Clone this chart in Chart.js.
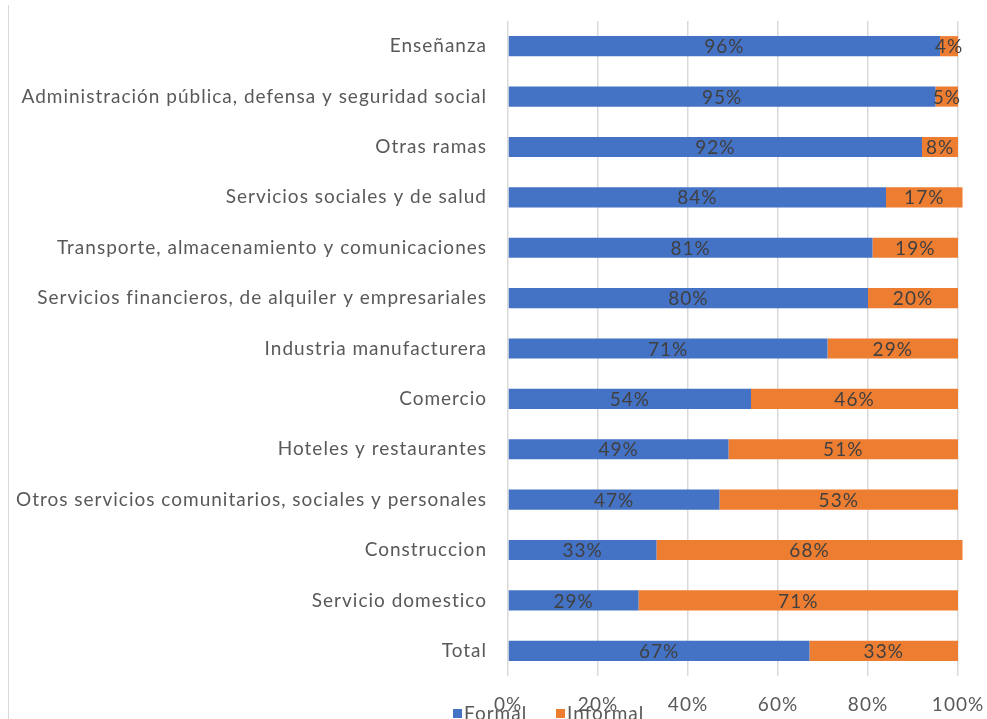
<!DOCTYPE html>
<html>
<head>
<meta charset="utf-8">
<title>Formal / Informal por rama</title>
<script src="https://cdn.jsdelivr.net/npm/chart.js@4/dist/chart.umd.min.js"></script>
<style>
  html, body { margin: 0; padding: 0; background: #fff; }
  #wrap { position: relative; width: 987px; height: 719px; overflow: hidden; }
  #frame { position: absolute; left: 8px; top: 5px; bottom: 0; border-left: 1px solid #d9d9d9; }
  canvas { position: absolute; left: 0; top: 0; }
</style>
</head>
<body>
<div id="wrap">
  <div id="frame"></div>
  <canvas id="myChart" width="987" height="719"></canvas>
</div>
<script>
// ramas de actividad, de arriba hacia abajo
const ramas = [
  'Enseñanza',
  'Administración pública, defensa y seguridad social',
  'Otras ramas',
  'Servicios sociales y de salud',
  'Transporte, almacenamiento y comunicaciones',
  'Servicios financieros, de alquiler y empresariales',
  'Industria manufacturera',
  'Comercio',
  'Hoteles y restaurantes',
  'Otros servicios comunitarios, sociales y personales',
  'Construccion',
  'Servicio domestico',
  'Total'
];
const formal   = [96, 95, 92, 84, 81, 80, 71, 54, 49, 47, 33, 29, 67];
const informal = [4, 5, 8, 17, 19, 20, 29, 46, 51, 53, 68, 71, 33];
const xTicks   = [0, 20, 40, 60, 80, 100];

const AZUL = '#4472C4';
const NARANJA = '#ED7D31';
const GRIS = '#595959';
const FUENTE = 'Lato, "Open Sans", sans-serif';

// un poco de espacio entre letras para todo el texto del canvas
const espaciado = {
  id: 'espaciado',
  beforeDraw(chart) { chart.ctx.letterSpacing = '1px'; }
};

// etiquetas de porcentaje dentro de cada barra
const etiquetasBarras = {
  id: 'etiquetasBarras',
  afterDatasetsDraw(chart) {
    const ctx = chart.ctx;
    ctx.save();
    ctx.font = '19px ' + FUENTE;
    ctx.fillStyle = '#404040';
    ctx.textAlign = 'center';
    ctx.textBaseline = 'middle';
    chart.data.datasets.forEach((ds, i) => {
      const meta = chart.getDatasetMeta(i);
      meta.data.forEach((bar, j) => {
        const cx = (bar.x + bar.base) / 2;
        ctx.fillText(ds.data[j] + '%', cx, bar.y + 1);
      });
    });
    ctx.restore();
  }
};

// leyenda abajo, pegada a las etiquetas del eje
const leyendaAbajo = {
  id: 'leyendaAbajo',
  afterDraw(chart) {
    const ctx = chart.ctx;
    const items = [
      { x: 453, ds: chart.data.datasets[0] },
      { x: 556, ds: chart.data.datasets[1] }
    ];
    ctx.save();
    ctx.font = '19px ' + FUENTE;
    ctx.textBaseline = 'middle';
    ctx.textAlign = 'left';
    items.forEach(it => {
      ctx.fillStyle = it.ds.backgroundColor;
      ctx.fillRect(it.x, 709, 9, 9);
      ctx.fillStyle = GRIS;
      ctx.fillText(it.ds.label, it.x + 11, 714);
    });
    ctx.restore();
  }
};

const ctx = document.getElementById('myChart');
const myChart = new Chart(ctx, {
  type: 'bar',
  data: {
    labels: ramas,
    datasets: [
      { label: 'Formal', data: formal, backgroundColor: AZUL, clip: false },
      { label: 'Informal', data: informal, backgroundColor: NARANJA, clip: false }
    ]
  },
  options: {
    indexAxis: 'y',
    responsive: false,
    animation: false,
    devicePixelRatio: 1,
    layout: { padding: { top: 21, right: 29, bottom: 0, left: 0 } },
    datasets: {
      bar: { categoryPercentage: 1, barPercentage: 0.4 }
    },
    scales: {
      x: {
        stacked: true,
        min: 0,
        max: 100,
        afterBuildTicks(scale) {
          scale.ticks = xTicks.map(v => ({ value: v }));
        },
        afterFit(scale) {
          scale.height = 43;
          scale.paddingLeft = 0;
          scale.paddingRight = 0;
        },
        grid: { color: '#d9d9d9', lineWidth: 1.5, drawTicks: false },
        border: { display: false },
        ticks: {
          padding: 17,
          color: GRIS,
          font: { family: FUENTE, size: 19 },
          callback: v => v + '%'
        }
      },
      y: {
        stacked: true,
        afterFit(scale) {
          scale.width = 508;
          scale.paddingTop = 0;
          scale.paddingBottom = 0;
        },
        grid: { display: false, drawTicks: false },
        border: { display: false },
        ticks: {
          padding: 21,
          color: GRIS,
          font: { family: FUENTE, size: 19 }
        }
      }
    },
    plugins: {
      legend: { display: false },
      tooltip: { enabled: false }
    }
  },
  plugins: [espaciado, etiquetasBarras, leyendaAbajo]
});
</script>
</body>
</html>
